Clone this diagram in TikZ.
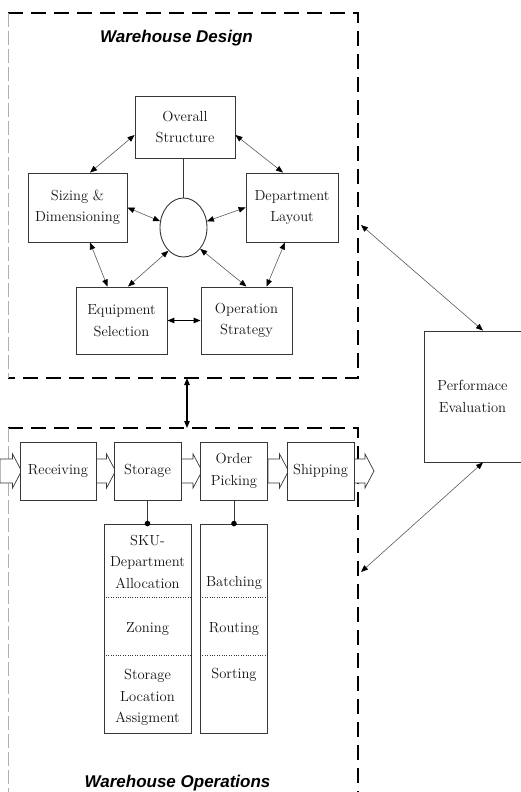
\documentclass[tikz,border=0pt]{standalone}
\usepackage{fontspec}
\usetikzlibrary{arrows.meta,calc,shapes.geometric}
\newfontfamily\titlefont{Liberation Sans}
\definecolor{framegray}{RGB}{175,175,175}
\definecolor{boxline}{RGB}{55,55,55}
\definecolor{boxtext}{RGB}{20,20,20}

\tikzset{
  box/.style={draw=boxline,line width=0.9pt,fill=white,align=center,text=boxtext,
    font=\fontsize{14.6}{21.5}\selectfont,inner sep=1pt},
  item/.style={text=boxtext,align=center,font=\fontsize{14.6}{21.5}\selectfont,inner sep=0pt},
  link/.style={draw=black!65,line width=0.6pt,
    {Triangle[length=7pt,width=5.5pt,color=black]}-{Triangle[length=7pt,width=5.5pt,color=black]}},
  boldlink/.style={link,draw=black,line width=1.1pt},
  frame/.style={line width=1.8pt,dash pattern=on 15pt off 8pt},
  frameside/.style={draw=framegray,line width=0.8pt,dash pattern=on 14pt off 4pt},
  flow/.style={draw=boxline,line width=0.7pt,fill=white},
  title/.style={font=\titlefont\bfseries\itshape\fontsize{17}{20}\selectfont,anchor=base}
}

% hollow process arrow from #1 (start) to #2 (tip)
\newcommand{\flowarrow}[2]{%
  \filldraw[flow] ($(#1)+(0,-12)$) -- ($(#2)+(-7,-12)$) -- ($(#2)+(-7,-17)$) -- ($(#2)+(2,0)$)
    -- ($(#2)+(-7,17)$) -- ($(#2)+(-7,12)$) -- ($(#1)+(0,12)$) -- cycle;}

\begin{document}
\begin{tikzpicture}[x=1pt,y=-1pt]
    \useasboundingbox (0,0) rectangle (521,792);

    % frames
    \draw[frame] (8,13) -- (358,13) -- (358,378) -- (8,378);
    \draw[frameside] (8,13) -- (8,378);
    \draw[frame] (8,428) -- (358,428) -- (358,792);
    \draw[frameside] (8,428) -- (8,792);
    \coordinate (designbottom) at (187,378);
    \coordinate (opstop) at (187,428);
    \coordinate (designedge) at (361,225);
    \coordinate (opsedge) at (361,572);

    \node[title] (designtitle) at (176.5,43) {Warehouse Design};
    \node[title] (opstitle) at (177.5,787) {Warehouse Operations};

    % warehouse design
    \node[box,minimum width=100pt,minimum height=62pt] (overall) at (185,127) {Overall\\Structure};
    \node[box,minimum width=99pt,minimum height=69pt] (sizing) at (77.5,207.5) {Sizing \&\\Dimensioning};
    \node[box,minimum width=92pt,minimum height=69pt] (dept) at (292,207.5) {Department\\Layout};
    \node[draw=boxline,line width=0.9pt,ellipse,minimum width=47pt,minimum height=59pt,inner sep=0pt] (hub) at (183.5,227.5) {};
    \node[box,minimum width=91pt,minimum height=67pt] (equip) at (121.5,320.5) {Equipment\\Selection};
    \node[box,minimum width=91pt,minimum height=67pt] (opstrat) at (246.5,320.5) {Operation\\Strategy};

    \draw[draw=boxline,line width=0.8pt] (hub.north |- overall.south) -- (hub.north);
    \draw[link] ($(overall.west)+(0,8)$) -- ($(sizing.north)+(12.5,0)$);
    \draw[link] ($(overall.east)+(0,8)$) -- ($(dept.north)+(-9,0)$);
    \draw[link] (sizing.east) -- (hub.165);
    \draw[link] (dept.west) -- (hub.15);
    \draw[link] ($(sizing.south)+(12.5,0)$) -- ($(equip.north)+(-14,0)$);
    \draw[link] (hub.237) -- ($(equip.north)+(6.5,0)$);
    \draw[link] (hub.308) -- (opstrat.north);
    \draw[link] ($(dept.south)+(-7,0)$) -- ($(opstrat.north)+(20,0)$);
    \draw[boldlink] (equip.east) -- (opstrat.west);

    \draw[boldlink] (designbottom) -- (opstop);

    % warehouse operations
    \coordinate (in) at (0,471);
    \coordinate (out) at (372,471);
    \node[box,minimum width=76pt,minimum height=58pt] (recv) at (58,471) {Receiving};
    \node[box,minimum width=67pt,minimum height=58pt] (storage) at (147.5,471) {Storage};
    \node[box,minimum width=67pt,minimum height=58pt] (picking) at (234,471) {Order\\Picking};
    \node[box,minimum width=67pt,minimum height=58pt] (ship) at (320.5,471) {Shipping};
    \flowarrow{in}{recv.west}
    \flowarrow{recv.east}{storage.west}
    \flowarrow{storage.east}{picking.west}
    \flowarrow{picking.east}{ship.west}
    \flowarrow{ship.east}{out}
    % redraw boxes over arrow tips
    \node[box,minimum width=76pt,minimum height=58pt] at (recv) {Receiving};
    \node[box,minimum width=67pt,minimum height=58pt] at (storage) {Storage};
    \node[box,minimum width=67pt,minimum height=58pt] at (picking) {Order\\Picking};
    \node[box,minimum width=67pt,minimum height=58pt] at (ship) {Shipping};

    \node[box,minimum width=87pt,minimum height=209pt] (skusub) at (147.5,628.5) {};
    \node[box,minimum width=67pt,minimum height=209pt] (picksub) at (234,628.5) {};
    \draw[dotted,draw=boxline] ($(skusub.north west)+(0,74)$) -- ($(skusub.north east)+(0,74)$);
    \draw[dotted,draw=boxline] ($(skusub.north west)+(0,132)$) -- ($(skusub.north east)+(0,132)$);
    \draw[dotted,draw=boxline] ($(picksub.north west)+(0,74)$) -- ($(picksub.north east)+(0,74)$);
    \draw[dotted,draw=boxline] ($(picksub.north west)+(0,132)$) -- ($(picksub.north east)+(0,132)$);
    \node[item] (sku) at (147.5,561.5) {SKU-\\Department\\Allocation};
    \node[item] (zoning) at (147.5,629) {Zoning};
    \node[item] (location) at (147.5,697.5) {Storage\\Location\\Assigment};
    \node[item] (batching) at (234,583) {Batching};
    \node[item] (routing) at (234,629) {Routing};
    \node[item] (sorting) at (234,675) {Sorting};

    \draw[draw=boxline,line width=0.9pt] (storage.south) -- (skusub.north);
    \draw[draw=boxline,line width=0.9pt] (picking.south) -- (picksub.north);
    \fill (skusub.north) circle (2.8pt);
    \fill (picksub.north) circle (2.8pt);

    % performance
    \node[box,minimum width=97pt,minimum height=131pt] (perf) at (472.5,396.5) {Performace\\Evaluation};
    \draw[link] (designedge) -- ($(perf.north)+(10.5,0)$);
    \draw[link] ($(perf.south)+(10.5,0)$) -- (opsedge);
\end{tikzpicture}
\end{document}
